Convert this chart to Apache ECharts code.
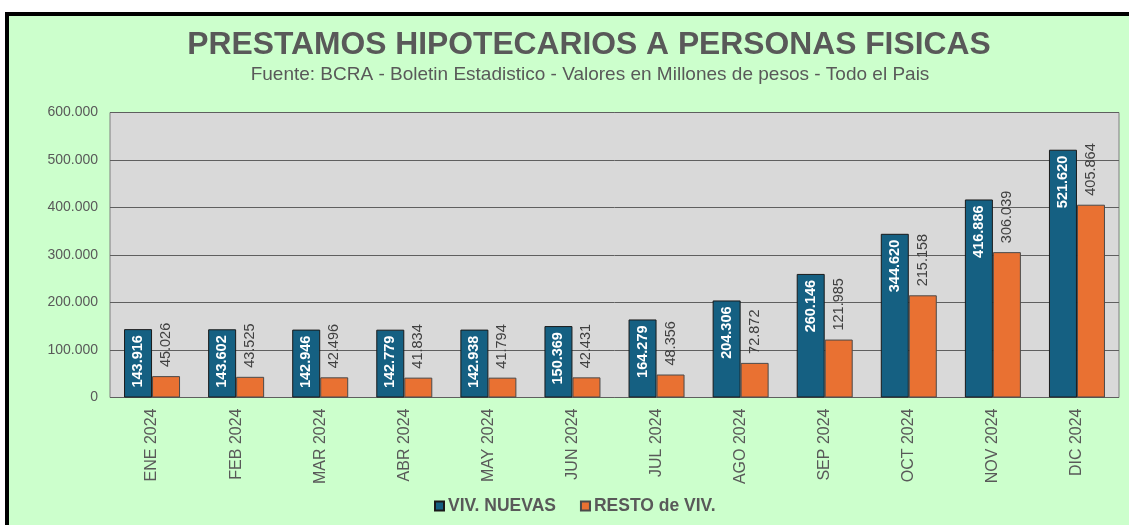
<!DOCTYPE html>
<html>
<head>
<meta charset="utf-8">
<script src="https://cdn.jsdelivr.net/npm/echarts@6/dist/echarts.min.js"></script>
<style>
  html, body { margin: 0; padding: 0; background: #fff; }
  #chart { width: 1129px; height: 525px; }
</style>
</head>
<body>
<div id="chart"></div>
<script>
// datos (millones de pesos)
const meses = ['ENE 2024', 'FEB 2024', 'MAR 2024', 'ABR 2024', 'MAY 2024', 'JUN 2024',
  'JUL 2024', 'AGO 2024', 'SEP 2024', 'OCT 2024', 'NOV 2024', 'DIC 2024']
const vivNuevas = [143916, 143602, 142946, 142779, 142938, 150369, 164279, 204306, 260146, 344620, 416886, 521620]
const restoViv = [45026, 43525, 42496, 41834, 41794, 42431, 48356, 72872, 121985, 215158, 306039, 405864]
const yMax = 600000
const yStep = 100000

const fmt = v => String(v).replace(/\B(?=(\d{3})+(?!\d))/g, '.')
const gris = '#595959'
const fuente = 'Liberation Sans, Arial, sans-serif'

const chart = echarts.init(document.getElementById('chart'))

const option = {
  backgroundColor: '#ccffcc',
  textStyle: { fontFamily: fuente },
  animation: false,
  graphic: [
    // marco: franja blanca arriba y borde negro
    { type: 'rect', shape: { x: 0, y: 0, width: 1129, height: 12 }, style: { fill: '#fff' } },
    { type: 'rect', shape: { x: 0, y: 0, width: 5, height: 525 }, style: { fill: '#fff' } },
    { type: 'rect', shape: { x: 5, y: 12, width: 1124, height: 4 }, style: { fill: '#000' } },
    { type: 'rect', shape: { x: 5, y: 12, width: 4, height: 513 }, style: { fill: '#000' } }
  ],
  title: [
    {
      text: 'PRESTAMOS HIPOTECARIOS A PERSONAS FISICAS',
      left: 589, top: 45.5, padding: 0,
      textAlign: 'center', textVerticalAlign: 'middle',
      textStyle: { fontSize: 31.8, fontWeight: 'bold', color: gris, fontFamily: fuente }
    },
    {
      text: 'Fuente: BCRA - Boletin Estadistico - Valores en Millones de pesos - Todo el Pais',
      left: 590, top: 75, padding: 0,
      textAlign: 'center', textVerticalAlign: 'middle',
      textStyle: { fontSize: 19, fontWeight: 'normal', color: gris, fontFamily: fuente }
    }
  ],
  legend: {
    data: ['VIV. NUEVAS', 'RESTO de VIV.'],
    left: 434, top: 497, padding: 0,
    itemWidth: 9, itemHeight: 9, itemGap: 24,
    icon: 'rect',
    textStyle: { fontSize: 17.5, fontWeight: 'bold', color: gris, padding: [0, 0, 0, -1] }
  },
  grid: {
    left: 110, right: 10, top: 112.5, bottom: 127.5,
    show: true,
    backgroundColor: '#d9d9d9',
    borderColor: '#7f7f7f',
    borderWidth: 1
  },
  xAxis: {
    type: 'category',
    data: meses,
    axisLine: { show: false },
    axisTick: { show: false },
    axisLabel: { rotate: 90, margin: 11, fontSize: 16, color: gris }
  },
  yAxis: {
    type: 'value',
    min: 0, max: yMax, interval: yStep,
    axisLine: { show: false },
    axisTick: { show: false },
    axisLabel: { margin: 12, fontSize: 14, color: gris, formatter: fmt },
    splitLine: { lineStyle: { color: '#5f5f5f', width: 1 } }
  },
  series: [
    {
      name: 'VIV. NUEVAS',
      type: 'bar',
      data: vivNuevas,
      barWidth: 28,
      barGap: '0%',
      itemStyle: { color: '#156082', borderColor: '#1a1a1a', borderWidth: 1 },
      label: {
        show: true,
        position: 'insideTop',
        distance: 6,
        rotate: 90,
        align: 'right',
        verticalAlign: 'middle',
        fontSize: 14.5,
        fontWeight: 'bold',
        color: '#fff',
        formatter: p => fmt(p.value)
      }
    },
    {
      name: 'RESTO de VIV.',
      type: 'bar',
      data: restoViv,
      barWidth: 28,
      barGap: '0%',
      itemStyle: { color: '#e97132', borderColor: '#4a4a4a', borderWidth: 1 },
      label: {
        show: true,
        position: 'top',
        distance: 9,
        rotate: 90,
        align: 'left',
        verticalAlign: 'middle',
        fontSize: 14.5,
        color: '#404040',
        formatter: p => fmt(p.value)
      }
    }
  ]
}

chart.setOption(option)
window.addEventListener('resize', () => chart.resize())
</script>
</body>
</html>
